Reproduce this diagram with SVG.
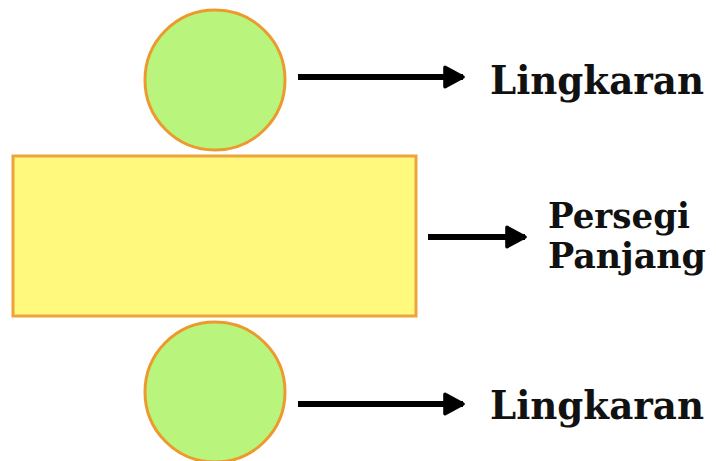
<svg xmlns="http://www.w3.org/2000/svg" width="716" height="461" viewBox="0 0 716 461">
<defs>
<style>
.circ{fill:#b9f47c;stroke:#ec9a2e;stroke-width:3}
.rect{fill:#fff97e;stroke:#eea43a;stroke-width:3}
.conn{stroke:#000;stroke-width:6;fill:none}
.lbl{font-family:"DejaVu Serif Condensed","DejaVu Serif","Liberation Serif",serif;font-stretch:condensed;font-weight:bold;fill:#111}
</style>
<marker id="ah" viewBox="0 0 10 10" refX="9" refY="5" markerWidth="4" markerHeight="4" markerUnits="strokeWidth" orient="auto">
<path d="M1.5,1 L9,5 L1.5,9 Z" fill="#000" stroke="#000" stroke-width="1.5" stroke-linejoin="round"/>
</marker>
</defs>
<rect width="716" height="461" fill="#fff"/>
<g id="circle-top"><circle class="circ" cx="215" cy="80" r="70"/></g>
<g id="rectangle"><rect class="rect" x="13" y="156" width="403" height="160"/></g>
<g id="circle-bottom"><circle class="circ" cx="215" cy="392" r="70"/></g>
<g id="connectors">
<line class="conn" x1="298" y1="77" x2="463" y2="77" marker-end="url(#ah)"/>
<line class="conn" x1="428" y1="237" x2="525" y2="237" marker-end="url(#ah)"/>
<line class="conn" x1="298" y1="404" x2="463" y2="404" marker-end="url(#ah)"/>
</g>
<g id="labels">
<text class="lbl" x="490" y="94" font-size="40" textLength="214" lengthAdjust="spacingAndGlyphs">Lingkaran</text>
<text class="lbl" x="548" y="228" font-size="36" textLength="142" lengthAdjust="spacingAndGlyphs">Persegi</text>
<text class="lbl" x="548" y="268" font-size="36" textLength="158" lengthAdjust="spacingAndGlyphs">Panjang</text>
<text class="lbl" x="490" y="419" font-size="40" textLength="214" lengthAdjust="spacingAndGlyphs">Lingkaran</text>
</g>
</svg>
